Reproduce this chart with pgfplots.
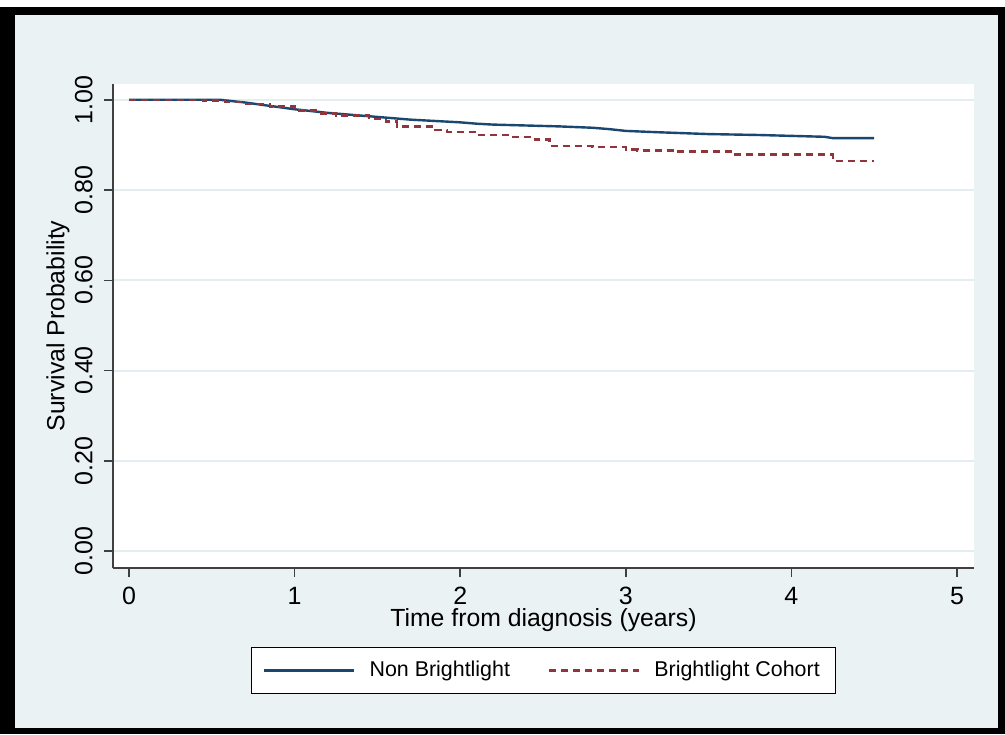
\documentclass[border=0pt]{standalone}
\usepackage{pgfplots}
\pgfplotsset{compat=1.18}
\usepackage{fontspec}
\setmainfont{Liberation Sans}
\definecolor{statabg}{HTML}{EAF2F3}
\definecolor{statagrid}{HTML}{E4EEF0}
\definecolor{statanavy}{HTML}{1A476F}
\definecolor{statamaroon}{HTML}{90353B}

\begin{document}
\begin{tikzpicture}
% outer frame (Stata style)
\fill[white] (-56.5pt,-83pt) rectangle (446pt,284pt);
\fill[black] (-56.5pt,-83pt) rectangle (446pt,280.5pt);
\fill[statabg] (-49pt,-80pt) rectangle (442.5pt,276.5pt);
\begin{axis}[
  scale only axis, width=430.5pt, height=242pt,
  at={(0,0)}, anchor=south west,
  xmin=-0.097, xmax=5.103, ymin=-0.0377, ymax=1.035,
  axis lines=left,
  axis line style={-, draw=black!75, line width=0.75pt},
  axis background/.style={fill=white},
  tick align=outside, major tick length=4.5pt,
  tick style={black!75, line width=0.75pt},
  xtick={0,1,2,3,4,5}, ytick={0,0.2,0.4,0.6,0.8,1},
  ymajorgrids, grid style={statagrid, line width=1pt},
  /pgf/number format/assume math mode=true,
  tick label style={font=\fontsize{12.5}{15}\selectfont},
  xticklabel style={inner sep=0pt, yshift=-5pt},
  xlabel={Time from diagnosis (years)},
  ylabel={Survival Probability},
  label style={font=\fontsize{12.4}{15}\selectfont},
  xlabel style={at={(axis description cs:0.5,-0.108)}, anchor=center, inner sep=0pt},
  ylabel style={at={(axis description cs:-0.064,0.5)}, anchor=center},
  legend style={at={(0.5,-0.163)}, anchor=north, legend columns=2,
    draw=black, fill=white, font=\fontsize{10.7}{13}\selectfont,
    inner xsep=6pt, inner ysep=5pt,
    /tikz/every odd column/.append style={column sep=5pt},
    /tikz/every even column/.append style={column sep=17pt}},
  legend image code/.code={\draw[#1] (0pt,0pt) -- (45pt,0pt);},
  yticklabel style={rotate=90, anchor=south, inner ysep=5.5pt,
    /pgf/number format/.cd, fixed, fixed zerofill, precision=2},
]
\addplot[statanavy, line width=1.2pt] coordinates {
(0,1.000) (0.55,1.000) (0.6,0.998) (0.7,0.994) (0.8,0.989) (0.9,0.984)
(1.0,0.979) (1.1,0.975) (1.2,0.971) (1.3,0.968) (1.4,0.965) (1.5,0.962)
(1.6,0.959) (1.7,0.956) (1.8,0.954) (1.9,0.952) (2.0,0.950) (2.1,0.947)
(2.2,0.945) (2.4,0.943) (2.6,0.941) (2.8,0.938) (2.9,0.935) (3.0,0.931)
(3.2,0.928) (3.5,0.924) (3.8,0.922) (4.0,0.920) (4.2,0.918) (4.25,0.915)
(4.5,0.915)};
\addlegendentry{Non Brightlight}
\addplot[const plot, statamaroon, line width=1.2pt, dash pattern=on 3.5pt off 2.5pt] coordinates {
(0,1.000) (0.45,0.998) (0.58,0.995) (0.7,0.991) (0.85,0.985) (1.0,0.976)
(1.15,0.970) (1.25,0.965) (1.45,0.958) (1.55,0.952) (1.62,0.941) (1.85,0.933)
(1.92,0.928) (2.1,0.922) (2.3,0.918) (2.45,0.912) (2.54,0.897) (2.8,0.895)
(3.0,0.890) (3.07,0.888) (3.3,0.885) (3.65,0.879) (4.25,0.865) (4.5,0.865)};
\addlegendentry{Brightlight Cohort}
\end{axis}
\end{tikzpicture}
\end{document}
